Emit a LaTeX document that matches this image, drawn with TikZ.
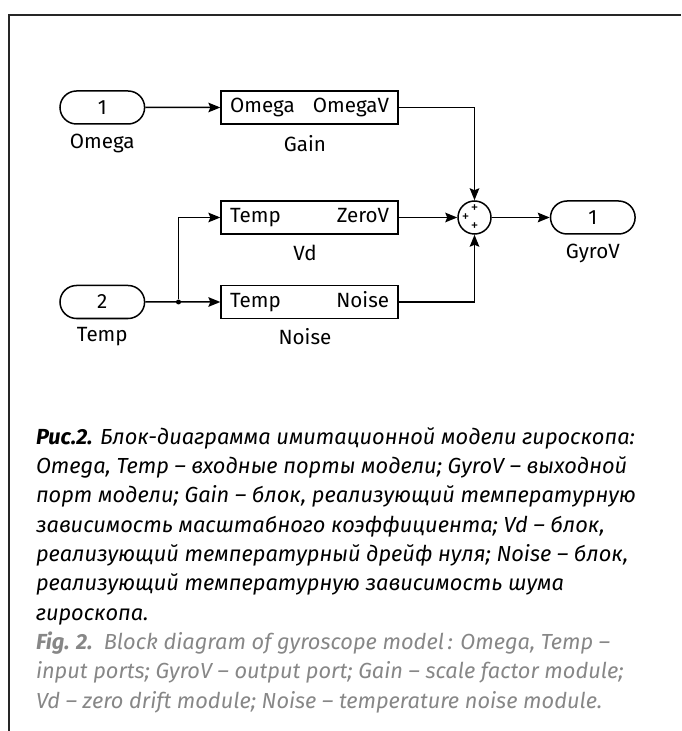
\documentclass[tikz,border=0pt]{standalone}
\usepackage{fontspec}
\setmainfont{Fira Sans}
\usetikzlibrary{arrows.meta,shapes.misc}
\definecolor{figgray}{RGB}{135,135,135}
\tikzset{
    every node/.style={inner sep=0pt, font=\fontsize{10.3}{12}\selectfont}
}
\tikzset{
    port/.style={draw, rounded rectangle, minimum width=42.3pt,
    	minimum height=16.5pt, line width=.75pt},
    block/.style={draw, rectangle, minimum width=88.5pt,
    	minimum height=16.5pt, line width=.75pt},
    sumnode/.style={draw, circle, minimum size=16.5pt, line width=.75pt},
    plus/.style={font=\fontsize{7.5}{7.5}\selectfont},
    wire/.style={line width=.75pt,
    	-{Stealth[length=6pt,width=4.8pt,inset=1pt]}}
}

\begin{document}
\begin{tikzpicture}[x=.5pt,y=-.5pt]
  \useasboundingbox (0,0) rectangle (681,731);
  \draw [line width=1pt, black!85] (8.7,731) -- (8.7,15.4) -- (681,15.4);

  \node (in1) [port] at (102.3,107.5) {1};
  \node (in2) [port] at (102.3,302) {2};
  \node (gain) [block] at (309.6,107.5) {\makebox[79.5pt]{Omega\hfill OmegaV}};
  \node (vd) [block] at (309.6,217.5) {\makebox[79.5pt]{Temp\hfill ZeroV}};
  \node (noise) [block] at (309.6,302) {\makebox[79.5pt]{Temp\hfill Noise}};
  \node (sum) [sumnode] at (474.5,217.5) {};
  \node (out1) [port] at (592.8,217.5) {1};
  \node (br) [circle, fill, minimum size=2.5pt] at (178.5,302) {};

  \node (pl1) [plus] at (474.5,208.5) {+};
  \node (pl2) [plus] at (465.5,217.5) {+};
  \node (pl3) [plus] at (474.5,226.5) {+};

  \node (in1lbl) at (102.3,143.5) {Omega};
  \node (gainlbl) at (305,143.5) {Gain};
  \node (vdlbl) at (305,253) {Vd};
  \node (out1lbl) at (592.8,253) {GyroV};
  \node (in2lbl) at (102.3,337) {Temp};
  \node (noiselbl) at (305,337) {Noise};

  \draw [wire] (in1) -- (gain);
  \draw [wire] (gain) -| (sum);
  \draw [wire] (vd) -- (sum);
  \draw [wire] (noise) -| (sum);
  \draw [wire] (sum) -- (out1);
  \draw [wire] (in2) -- (noise);
  \draw [wire] (br) |- (vd);

  \node (capt) [anchor=north west, align=left,
  	font=\fontsize{10.9}{14.65}\selectfont\itshape] at (35.6,427) {%
    \textbf{Рис.2.} Блок-диаграмма имитационной модели гироскопа:\\
    Omega, Temp – входные порты модели; GyroV – выходной\\
    порт модели; Gain – блок, реализующий температурную\\
    зависимость масштабного коэффициента; Vd – блок,\\
    реализующий температурный дрейф нуля; Noise – блок,\\
    реализующий температурную зависимость шума\\
    гироскопа.\\
    \color{figgray}\textbf{Fig. 2.}\ \ Block diagram of gyroscope model\,: Omega, Temp –\\
    \color{figgray}input ports; GyroV – output port; Gain – scale factor module;\\
    \color{figgray}Vd – zero drift module; Noise – temperature noise module.};
\end{tikzpicture}
\end{document}
